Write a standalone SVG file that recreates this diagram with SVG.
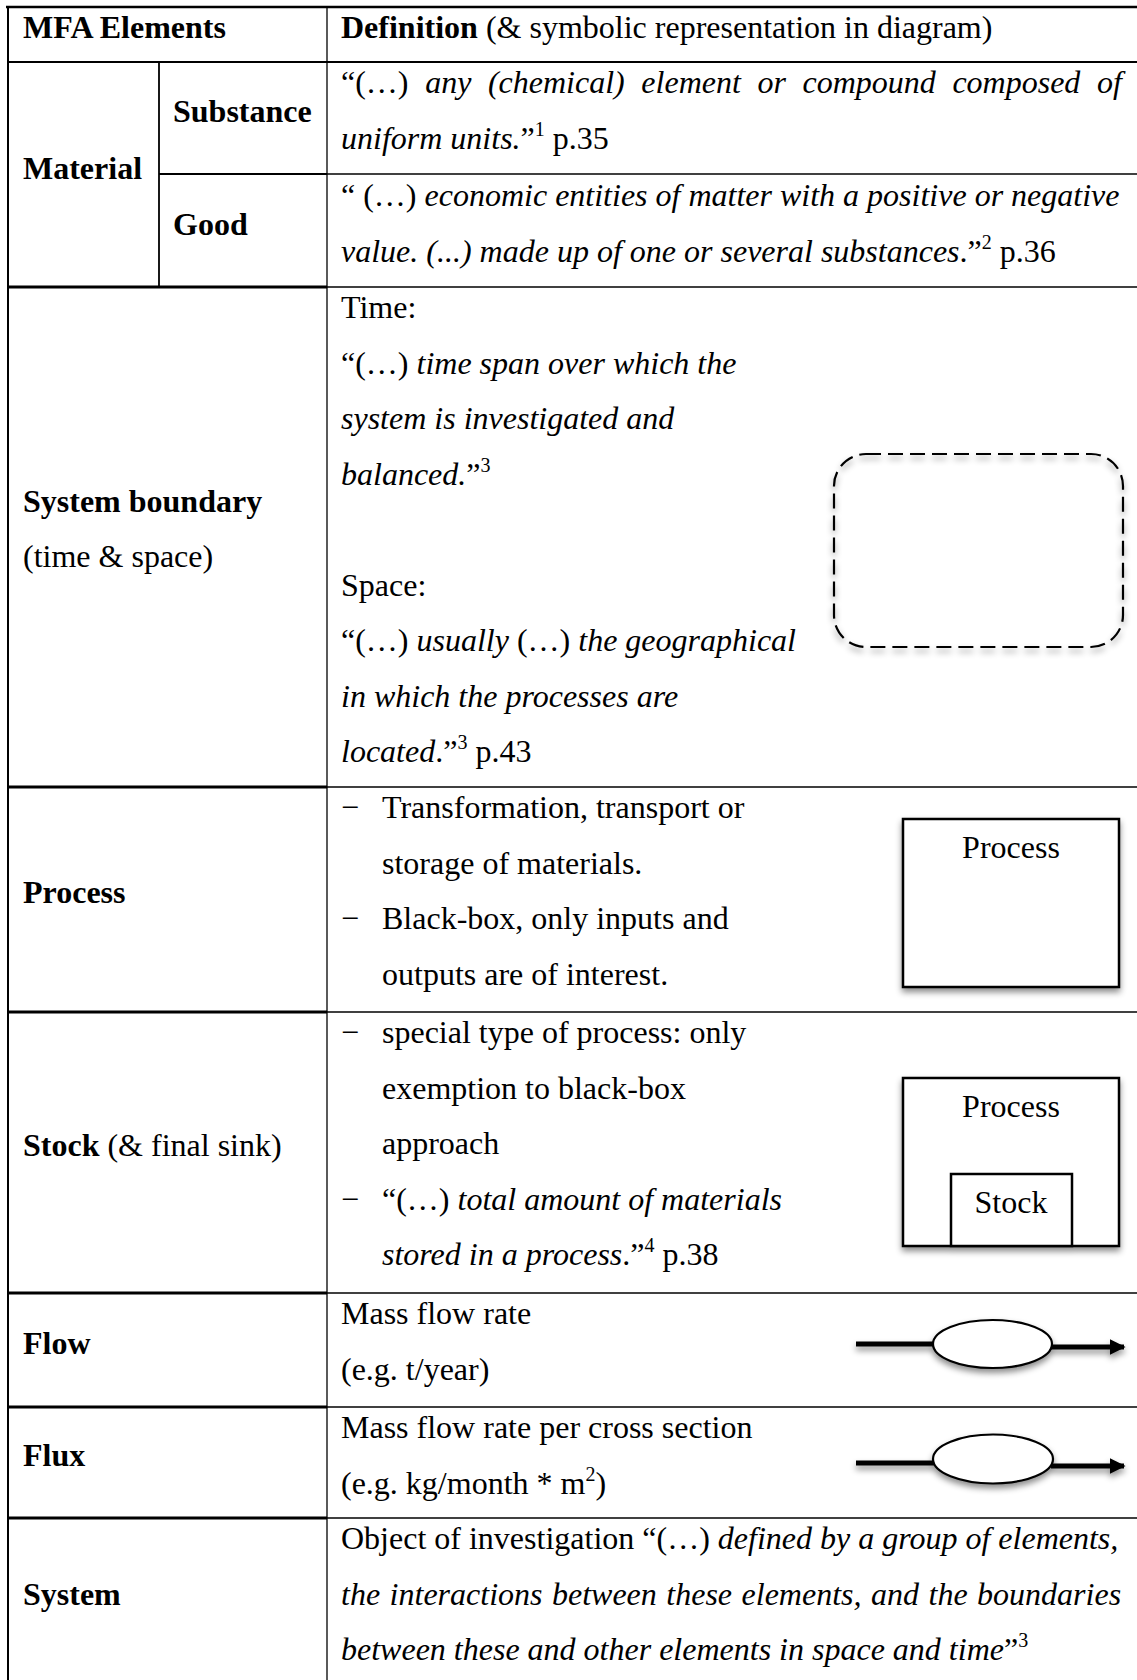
<svg xmlns="http://www.w3.org/2000/svg" width="1137" height="1680" viewBox="0 0 1137 1680">
  <style>
    text { font-family: "Liberation Serif", "Times New Roman", serif; font-size: 32px; fill: #000; }
    .b { font-weight: bold; }
    .i { font-style: italic; }
    .sup { font-size: 20px; }
    .mid { text-anchor: middle; }
    .rule { stroke: #000; fill: none; }
    .thin { stroke-width: 1.3; }
    .thick { stroke-width: 3; }
    .box { fill: #fff; stroke: #000; stroke-width: 2.5; }
    .bound { fill: none; stroke: #000; stroke-width: 2.2; stroke-dasharray: 15 7; }
    .shaft { stroke: #000; stroke-width: 5; fill: none; }
  </style>
  <defs>
    <filter id="shade" x="-10%" y="-10%" width="120%" height="130%">
      <feDropShadow dx="0" dy="4" stdDeviation="3" flood-color="#000" flood-opacity="0.45"/>
    </filter>
    <marker id="head" viewBox="0 0 10 10" refX="9" refY="5" markerWidth="3.2" markerHeight="3.2" markerUnits="strokeWidth" orient="auto">
      <path d="M0,0 L10,5 L0,10 z" fill="#000"/>
    </marker>
  </defs>

  <rect width="1137" height="1680" fill="#fff"/>

  <!-- table grid -->
  <g id="grid" class="rule">
    <line x1="6" y1="7" x2="1137" y2="7" stroke-width="2.5"/>
    <line x1="8" y1="6" x2="8" y2="1680" stroke-width="2"/>
    <line x1="327" y1="7" x2="327" y2="1680" class="thin"/>
    <line x1="8" y1="62" x2="1137" y2="62" stroke-width="1.8"/>
    <line x1="159" y1="62" x2="159" y2="287" stroke-width="1.8"/>
    <line x1="159" y1="174" x2="327" y2="174" stroke-width="1.8"/>
    <line x1="327" y1="174" x2="1137" y2="174" class="thin"/>
    <line x1="8" y1="287" x2="327" y2="287" class="thick"/>
    <line x1="327" y1="287" x2="1137" y2="287" class="thin"/>
    <line x1="8" y1="787" x2="327" y2="787" class="thick"/>
    <line x1="327" y1="787" x2="1137" y2="787" class="thin"/>
    <line x1="8" y1="1012" x2="327" y2="1012" class="thick"/>
    <line x1="327" y1="1012" x2="1137" y2="1012" class="thin"/>
    <line x1="8" y1="1293" x2="327" y2="1293" class="thick"/>
    <line x1="327" y1="1293" x2="1137" y2="1293" class="thin"/>
    <line x1="8" y1="1407" x2="327" y2="1407" class="thick"/>
    <line x1="327" y1="1407" x2="1137" y2="1407" class="thin"/>
    <line x1="8" y1="1518" x2="327" y2="1518" class="thick"/>
    <line x1="327" y1="1518" x2="1137" y2="1518" class="thin"/>
  </g>

  <!-- header row -->
  <g id="header">
    <text x="23" y="38" class="b">MFA Elements</text>
    <text x="341" y="38"><tspan class="b">Definition</tspan> (&amp; symbolic representation in diagram)</text>
  </g>

  <!-- material: substance and good -->
  <g id="material">
    <text x="23" y="179" class="b">Material</text>
  </g>
  <g id="substance">
    <text x="173" y="122" class="b">Substance</text>
    <text x="341" y="93" word-spacing="8.6">“(…) <tspan class="i">any (chemical) element or compound composed of</tspan></text>
    <text x="341" y="148.5"><tspan class="i">uniform units.</tspan>”<tspan class="sup" dy="-13">1</tspan><tspan dy="13"> p.35</tspan></text>
  </g>
  <g id="good">
    <text x="173" y="235" class="b">Good</text>
    <text x="341" y="206">“ (…) <tspan class="i">economic entities of matter with a positive or negative</tspan></text>
    <text x="341" y="261.5"><tspan class="i">value. (...) made up of one or several substances</tspan>.”<tspan class="sup" dy="-13">2</tspan><tspan dy="13"> p.36</tspan></text>
  </g>

  <!-- system boundary -->
  <g id="system-boundary">
    <text x="23" y="512" class="b">System boundary</text>
    <text x="23" y="567">(time &amp; space)</text>
    <text x="341" y="318">Time:</text>
    <text x="341" y="373.5">“(…) <tspan class="i">time span over which the</tspan></text>
    <text x="341" y="429"><tspan class="i">system is investigated and</tspan></text>
    <text x="341" y="484.5"><tspan class="i">balanced.</tspan>”<tspan class="sup" dy="-13">3</tspan></text>
    <text x="341" y="595.5">Space:</text>
    <text x="341" y="651">“(…) <tspan class="i">usually</tspan> (…) <tspan class="i">the geographical</tspan></text>
    <text x="341" y="706.5"><tspan class="i">in which the processes are</tspan></text>
    <text x="341" y="762"><tspan class="i">located</tspan>.”<tspan class="sup" dy="-13">3</tspan><tspan dy="13"> p.43</tspan></text>
    <rect x="834" y="454" width="289" height="193" rx="32" class="bound" filter="url(#shade)"/>
  </g>

  <!-- process -->
  <g id="process">
    <text x="23" y="903" class="b">Process</text>
    <text x="341" y="818">−</text>
    <text x="382" y="818">Transformation, transport or</text>
    <text x="382" y="873.5">storage of materials.</text>
    <text x="341" y="929">−</text>
    <text x="382" y="929">Black-box, only inputs and</text>
    <text x="382" y="984.5">outputs are of interest.</text>
    <rect x="903" y="819" width="216" height="168" class="box" filter="url(#shade)"/>
    <text x="1011" y="858" class="mid">Process</text>
  </g>

  <!-- stock -->
  <g id="stock">
    <text x="23" y="1156"><tspan class="b">Stock</tspan> (&amp; final sink)</text>
    <text x="341" y="1043">−</text>
    <text x="382" y="1043">special type of process: only</text>
    <text x="382" y="1098.5">exemption to black-box</text>
    <text x="382" y="1154">approach</text>
    <text x="341" y="1209.5">−</text>
    <text x="382" y="1209.5">“(…) <tspan class="i">total amount of materials</tspan></text>
    <text x="382" y="1265"><tspan class="i">stored in a process</tspan>.”<tspan class="sup" dy="-13">4</tspan><tspan dy="13"> p.38</tspan></text>
    <g filter="url(#shade)">
      <rect x="903" y="1078" width="216" height="168" class="box"/>
      <rect x="951" y="1174" width="121" height="72" class="box"/>
    </g>
    <text x="1011" y="1117" class="mid">Process</text>
    <text x="1011" y="1213" class="mid">Stock</text>
  </g>

  <!-- flow -->
  <g id="flow">
    <text x="23" y="1354" class="b">Flow</text>
    <text x="341" y="1324">Mass flow rate</text>
    <text x="341" y="1379.5">(e.g. t/year)</text>
  </g>

  <!-- flux -->
  <g id="flux">
    <text x="23" y="1466" class="b">Flux</text>
    <text x="341" y="1438">Mass flow rate per cross section</text>
    <text x="341" y="1493.5">(e.g. kg/month * m<tspan class="sup" dy="-13">2</tspan><tspan dy="13">)</tspan></text>
  </g>

  <!-- system -->
  <g id="system">
    <text x="23" y="1605" class="b">System</text>
    <text x="341" y="1549">Object of investigation “(…) <tspan class="i">defined by a group of elements,</tspan></text>
    <text x="341" y="1604.5" class="i" word-spacing="1.5">the interactions between these elements, and the boundaries</text>
    <text x="341" y="1660"><tspan class="i">between these and other elements in space and time</tspan>”<tspan class="sup" dy="-13">3</tspan></text>
  </g>

  <!-- flow symbols: shaft, value ellipse, arrow -->
  <g id="connectors" filter="url(#shade)">
    <line x1="856" y1="1344" x2="934" y2="1344" class="shaft"/>
    <line x1="1051" y1="1347" x2="1124" y2="1347" class="shaft" marker-end="url(#head)"/>
    <ellipse cx="992.5" cy="1344" rx="59.5" ry="24" fill="#fff" stroke="#000" stroke-width="2.2"/>
    <line x1="856" y1="1463" x2="934" y2="1463" class="shaft"/>
    <line x1="1051" y1="1466" x2="1124" y2="1466" class="shaft" marker-end="url(#head)"/>
    <ellipse cx="993" cy="1459" rx="60" ry="24.5" fill="#fff" stroke="#000" stroke-width="2.2"/>
  </g>
</svg>
